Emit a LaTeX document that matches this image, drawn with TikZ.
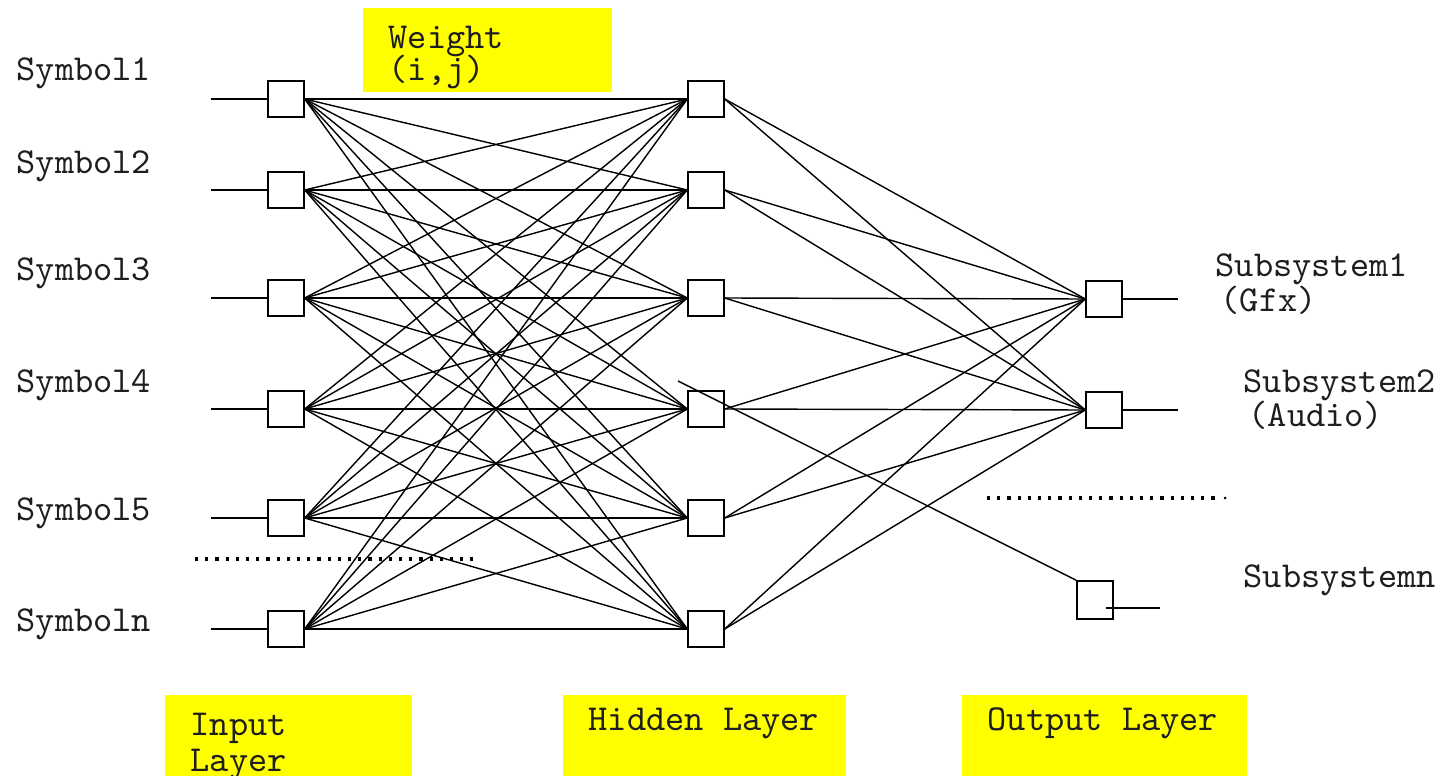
\documentclass[tikz,border=0pt]{standalone}
\definecolor{hilite}{HTML}{FFFF00}
\definecolor{ink}{HTML}{1E1E1E}
\tikzset{
  unit/.style={draw, inner sep=0pt, minimum size=0.36cm},
  lbl/.style={anchor=base west, inner sep=0pt, text=ink,
    font=\ttfamily\fontsize{10.4}{12}\selectfont},
  wire/.style={line width=0.4pt},
}

\begin{document}
\begin{tikzpicture}[x=0.01cm, y=-0.01cm, wire]
    \useasboundingbox (0,0) rectangle (1439,776);

    % Yellow captions
    \fill[hilite] (363,8) rectangle (612,92);
    \fill[hilite] (165,695) rectangle (412,776);
    \fill[hilite] (563,695) rectangle (846,776);
    \fill[hilite] (962,695) rectangle (1247,776);

    % Nodes
    \node[unit] (I1) at (286,99) {};
    \node[unit] (I2) at (286,190) {};
    \node[unit] (I3) at (286,298) {};
    \node[unit] (I4) at (286,409) {};
    \node[unit] (I5) at (286,518) {};
    \node[unit] (I6) at (286,629) {};

    \node[unit] (H1) at (706,99) {};
    \node[unit] (H2) at (706,190) {};
    \node[unit] (H3) at (706,298) {};
    \node[unit] (H4) at (706,409) {};
    \node[unit] (H5) at (706,518) {};
    \node[unit] (H6) at (706,629) {};

    \node[unit] (O1) at (1104,299) {};
    \node[unit] (O2) at (1104,410) {};
    \node[unit, minimum height=0.38cm] (On) at (1095,600) {};

    % Labels
    \node[lbl] (s1) at (16,81) {Symbol1};
    \node[lbl] (s2) at (16,174) {Symbol2};
    \node[lbl] (s3) at (16,281) {Symbol3};
    \node[lbl] (s4) at (16,392) {Symbol4};
    \node[lbl] (s5) at (16,520) {Symbol5};
    \node[lbl] (sn) at (16,631) {Symboln};

    \node[lbl] (w1) at (388,49) {Weight};
    \node[lbl] (w2) at (388,81) {(i,j)};

    \node[lbl] (t1) at (1215,277) {Subsystem1};
    \node[lbl] (g1) at (1220,311) {(Gfx)};
    \node[lbl] (t2) at (1243,392) {Subsystem2};
    \node[lbl] (g2) at (1248,426) {(Audio)};
    \node[lbl] (tn) at (1243,587) {Subsystemn};

    \node[lbl] (li1) at (190,735) {Input};
    \node[lbl] (li2) at (190,771) {Layer};
    \node[lbl] (lh) at (588,730) {Hidden Layer};
    \node[lbl] (lo) at (987,730) {Output Layer};

    % Input leads
    \foreach \r/\y in {1/99, 2/190, 3/298, 4/409, 5/518, 6/629}
      \draw (211,\y) coordinate (a\r) -- (I\r.west);

    % Input to hidden
    \foreach \i in {1,...,6}
      \foreach \j in {1,...,6}
        \draw (I\i.east) -- (H\j.west);

    % Hidden to output
    \foreach \i in {1,...,6}
      \foreach \j in {1,2}
        \draw (H\i.east) -- (O\j.west);

    \coordinate (x4) at (678,381);
    \draw (x4) -- (On.north west);

    % Output leads
    \coordinate (b1) at (1178,299);
    \coordinate (b2) at (1178,410);
    \coordinate (bn0) at (1106,608);
    \coordinate (bn) at (1160,608);
    \draw (O1.east) -- (b1);
    \draw (O2.east) -- (b2);
    \draw (bn0) -- (bn);

    % Dotted rows
    \coordinate (d1) at (195,559);
    \coordinate (d2) at (473,559);
    \coordinate (d3) at (987,498);
    \coordinate (d4) at (1216,498);
    \draw[dotted, line width=0.9pt] (d1) -- (d2);
    \draw[dotted, line width=0.9pt] (d3) -- (d4);
    \fill (1225,498) circle (1.5);
  \end{tikzpicture}
\end{document}
